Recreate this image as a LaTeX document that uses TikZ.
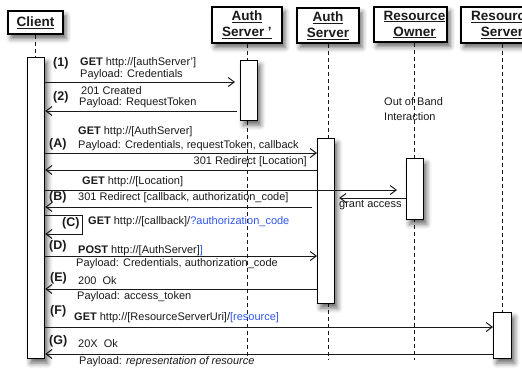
\documentclass[tikz,border=0pt]{standalone}
\usepackage{fontspec}
\setmainfont{Liberation Sans}
\usetikzlibrary{arrows.meta,shadows.blur}
\definecolor{ink}{HTML}{1A1A1A}
\definecolor{linkblue}{HTML}{2F55F0}

\tikzset{
  softshadow/.style={blur shadow={shadow xshift=3pt, shadow yshift=-4.5pt, shadow blur radius=5pt, shadow opacity=60}},
  hdr/.style={draw=black, line width=1.4pt, fill=white, softshadow, inner sep=0pt},
  hdrtext/.style={font=\fontsize{13.5}{16}\selectfont\bfseries, text=ink, align=center, inner sep=0pt},
  actbar/.style={draw=black, line width=1.2pt, fill=white, minimum width=17pt, anchor=north west, inner sep=0pt, softshadow},
  life/.style={draw=ink, line width=1pt, dash pattern=on 4pt off 3pt},
  msg/.style={draw=ink, line width=1pt, -{Straight Barb[length=6pt,width=9pt]}},
  lbl/.style={font=\fontsize{11}{13}\selectfont, text=ink, anchor=mid west, inner sep=0pt},
  tag/.style={font=\fontsize{12.5}{14}\selectfont\bfseries, text=ink, anchor=mid west, inner sep=0pt},
}

\begin{document}
\begin{tikzpicture}[x=1pt,y=-1pt]
\useasboundingbox (0,0) rectangle (522,368);

% ---- participants ----
\node[hdr, minimum width=55pt, minimum height=23pt] (client) at (35.5,22.5) {};
\node[hdrtext] (clienttxt) at (client.center) {\underline{Client}};

\node[hdr, minimum width=70pt, minimum height=36pt] (asp) at (247,25) {};
\node[hdrtext] (asptxt) at (asp.center) {\underline{Auth}\\\underline{Server '}};

\node[hdr, minimum width=62pt, minimum height=35pt] (as) at (328,25.5) {};
\node[hdrtext] (astxt) at (as.center) {\underline{Auth}\\\underline{Server}};

\node[hdr, minimum width=73pt, minimum height=35pt] (ro) at (410.5,24.5) {};
\node[hdrtext] (rotxt) at (414.5,24.5) {\underline{Resource}\\\underline{Owner}};

\node[hdr, minimum width=82pt, minimum height=36pt] (rs) at (502,25) {};
\node[hdrtext] (rstxt) at (rs.center) {\underline{Resource}\\\underline{Server}};

% ---- long lifelines ----
\coordinate (bottom) at (0,360);
\coordinate (rol) at (414.5,0);
\draw[life] (asp.south) -- (asp.south |- bottom);
\draw[life] (as.south) -- (as.south |- bottom);
\draw[life] (rol |- ro.south) -- (rol |- bottom);

% ---- activation bars ----
\node[actbar, minimum height=301pt] (cbar) at (27,57) {};
\node[actbar, minimum height=60pt] (aspbar) at (240,60) {};
\node[actbar, minimum height=165pt] (asbar) at (317,138) {};
\node[actbar, minimum height=61pt] (robar) at (406,158) {};
\node[actbar, minimum height=46pt, minimum width=18pt] (rsbar) at (493,312) {};

% ---- short lifelines, header to bar ----
\draw[life] (client.south) -- (client.south |- cbar.north);
\draw[life] (rs.south) -- (rs.south |- rsbar.north);

% ---- message rows ----
\coordinate (r1) at (0,82);
\coordinate (r2) at (0,111);
\coordinate (rA) at (0,153);
\coordinate (rAr) at (0,170);
\coordinate (rL) at (0,190);
\coordinate (rGr) at (0,198);
\coordinate (rB) at (0,207);
\coordinate (rD) at (0,256);
\coordinate (rE) at (0,289);
\coordinate (rF) at (0,327);
\coordinate (rG) at (0,354);
\coordinate (cturn) at (82,215);
\coordinate (cturnb) at (82,234);

\draw[msg, shorten >=5pt] (cbar.east |- r1) -- (aspbar.west |- r1);
\draw[msg, shorten <=3pt] (aspbar.west |- r2) -- (cbar.east |- r2);
\draw[msg] (cbar.east |- rA) -- (asbar.west |- rA);
\draw[msg] (asbar.west |- rAr) -- (cbar.east |- rAr);
\draw[msg, shorten >=9pt] (cbar.east |- rL) -- (robar.west |- rL);
\draw[msg, shorten >=4pt] (robar.west |- rGr) -- (asbar.east |- rGr);
\draw[msg, shorten <=5pt] (asbar.west |- rB) -- (cbar.east |- rB);
\draw[msg] (cbar.east |- cturn) -- (cturn) -- (cturnb) -- (cbar.east |- cturnb);
\draw[msg] (cbar.east |- rD) -- (asbar.west |- rD);
\draw[msg] (asbar.west |- rE) -- (cbar.east |- rE);
\draw[msg] (cbar.east |- rF) -- (rsbar.west |- rF);
\draw[msg] (rsbar.west |- rG) -- (cbar.east |- rG);

% ---- labels ----
\node[tag] (t1) at (53,64) {(1)};
\node[lbl] (m1a) at (80,63) {\textbf{GET} http://[authServer']};
\node[lbl] (m1b) at (80,75) {Payload: Credentials};

\node[tag] (t2) at (53,98) {(2)};
\node[lbl] (m2a) at (81,92) {201 Created};
\node[lbl] (m2b) at (79,103) {Payload: RequestToken};

\node[lbl] (oob1) at (384,103) {Out of Band};
\node[lbl] (oob2) at (384,118) {Interaction};

\node[lbl] (mAa) at (78,132) {\textbf{GET} http://[AuthServer]};
\node[tag] (tA) at (49,145) {(A)};
\node[lbl] (mAb) at (78,146) {Payload: Credentials, requestToken, callback};
\node[lbl, anchor=mid east] (mAr) at (307,162) {301 Redirect [Location]};

\node[lbl] (mL) at (82,182) {\textbf{GET} http://[Location]};
\node[lbl] (mGr) at (339,205) {grant access};

\node[tag] (tB) at (49,198) {(B)};
\node[lbl] (mB) at (78,198) {301 Redirect [callback, authorization\_code]};

\node[tag] (tC) at (62,224) {(C)};
\node[lbl] (mC) at (88,222) {\textbf{GET} http://[callback]/\textcolor{linkblue}{?authorization\_code}};

\node[tag] (tD) at (49,247) {(D)};
\node[lbl] (mDa) at (78,251) {\textbf{POST} http://[AuthServer]\textcolor{linkblue}{]}};
\node[lbl] (mDb) at (76,264) {Payload: Credentials, authorization\_code};

\node[tag] (tE) at (50,279) {(E)};
\node[lbl] (mEa) at (78,282) {200~~Ok};
\node[lbl] (mEb) at (77,297) {Payload: access\_token};

\node[tag] (tF) at (50,312) {(F)};
\node[lbl] (mF) at (74,318) {\textbf{GET} http://[ResourceServerUri]/\textcolor{linkblue}{[resource]}};

\node[tag] (tG) at (49,342) {(G)};
\node[lbl] (mGa) at (78,345) {20X~~Ok};
\node[lbl] (mGb) at (79,362) {Payload: \textit{representation of resource}};
\end{tikzpicture}
\end{document}
